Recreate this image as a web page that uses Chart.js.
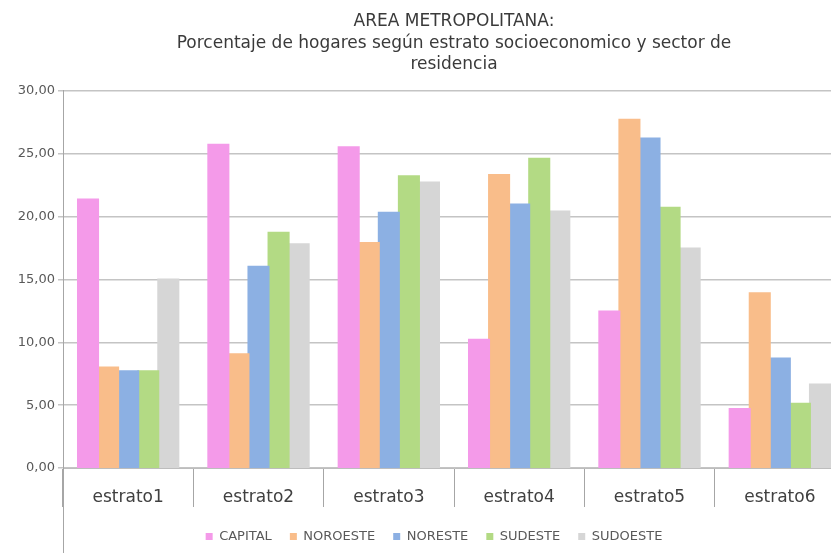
<!DOCTYPE html>
<html lang="es">
<head>
    <meta charset="UTF-8">
    <title>Area Metropolitana</title>
    <script src="https://cdn.jsdelivr.net/npm/chart.js"></script>
    <style>
        html, body { margin: 0; padding: 0; background: #fff; overflow: hidden; }
        #wrap { width: 868px; height: 553px; }
    </style>
</head>
<body>
    <div id="wrap"><canvas id="myChart" width="868" height="553"></canvas></div>
    <script>
        const categories = ["estrato1", "estrato2", "estrato3", "estrato4", "estrato5", "estrato6"];
        const capital  = [21.35, 25.7, 25.5, 10.2, 12.45, 4.7];
        const noroeste = [8.0, 9.05, 17.9, 23.3, 27.7, 13.9];
        const noreste  = [7.7, 16.0, 20.3, 20.95, 26.2, 8.7];
        const sudeste  = [7.7, 18.7, 23.2, 24.6, 20.7, 5.1];
        const sudoeste = [15.0, 17.8, 22.7, 20.4, 17.45, 6.65];
        const titleLines = [
            "AREA METROPOLITANA:",
            "Porcentaje de hogares según estrato socioeconomico y sector de",
            "residencia"
        ];

        const font = "'DejaVu Sans', sans-serif";

        // long left line under the plot, like the original
        const leftLine = {
            id: "leftLine",
            afterDraw(chart) {
                const c = chart.ctx, a = chart.chartArea;
                c.save();
                c.strokeStyle = "#a6a6a6";
                c.lineWidth = 1;
                c.beginPath();
                c.moveTo(a.left + 0.5, a.bottom);
                c.lineTo(a.left + 0.5, chart.height);
                c.stroke();
                c.restore();
            }
        };

        new Chart(document.getElementById("myChart"), {
            type: "bar",
            data: {
                labels: categories,
                datasets: [
                    { label: "CAPITAL",  data: capital,  backgroundColor: "#f49ae9" },
                    { label: "NOROESTE", data: noroeste, backgroundColor: "#f9bd8a" },
                    { label: "NORESTE",  data: noreste,  backgroundColor: "#8cb0e3" },
                    { label: "SUDESTE",  data: sudeste,  backgroundColor: "#b3da84" },
                    { label: "SUDOESTE", data: sudoeste, backgroundColor: "#d6d6d6" }
                ]
            },
            options: {
                responsive: false,
                animation: false,
                devicePixelRatio: 1,
                categoryPercentage: 0.77,
                barPercentage: 1.0,
                inflateAmount: 1,
                plugins: {
                    title: {
                        display: true,
                        fullSize: false,
                        text: titleLines,
                        color: "#3a3a3a",
                        font: { family: font, size: 17, weight: "normal", lineHeight: 1.27 },
                        padding: { top: 11, bottom: 15 }
                    },
                    legend: {
                        position: "bottom",
                        labels: {
                            color: "#595959",
                            boxWidth: 7,
                            boxHeight: 7,
                            padding: 18,
                            font: { family: font, size: 13 }
                        }
                    },
                    tooltip: { enabled: false }
                },
                scales: {
                    x: {
                        grid: {
                            drawOnChartArea: false,
                            tickLength: 39,
                            color: "#a6a6a6"
                        },
                        border: { color: "#bdbdbd" },
                        ticks: {
                            padding: -20,
                            color: "#404040",
                            font: { family: font, size: 17 }
                        },
                        afterFit(s) { s.height = 44; }
                    },
                    y: {
                        min: 0,
                        max: 30,
                        ticks: {
                            stepSize: 5,
                            padding: 3,
                            color: "#595959",
                            font: { family: font, size: 13 },
                            callback: v => v.toFixed(2).replace(".", ",")
                        },
                        grid: { color: "#c4c4c4", lineWidth: 1.5, tickLength: 5 },
                        border: { color: "#a6a6a6" },
                        afterFit(s) { s.width = 63; }
                    },
                    y2: {
                        position: "right",
                        ticks: { display: false },
                        grid: { display: false },
                        border: { display: false },
                        afterFit(s) { s.width = 23; }
                    }
                }
            },
            plugins: [leftLine]
        });
    </script>
</body>
</html>
